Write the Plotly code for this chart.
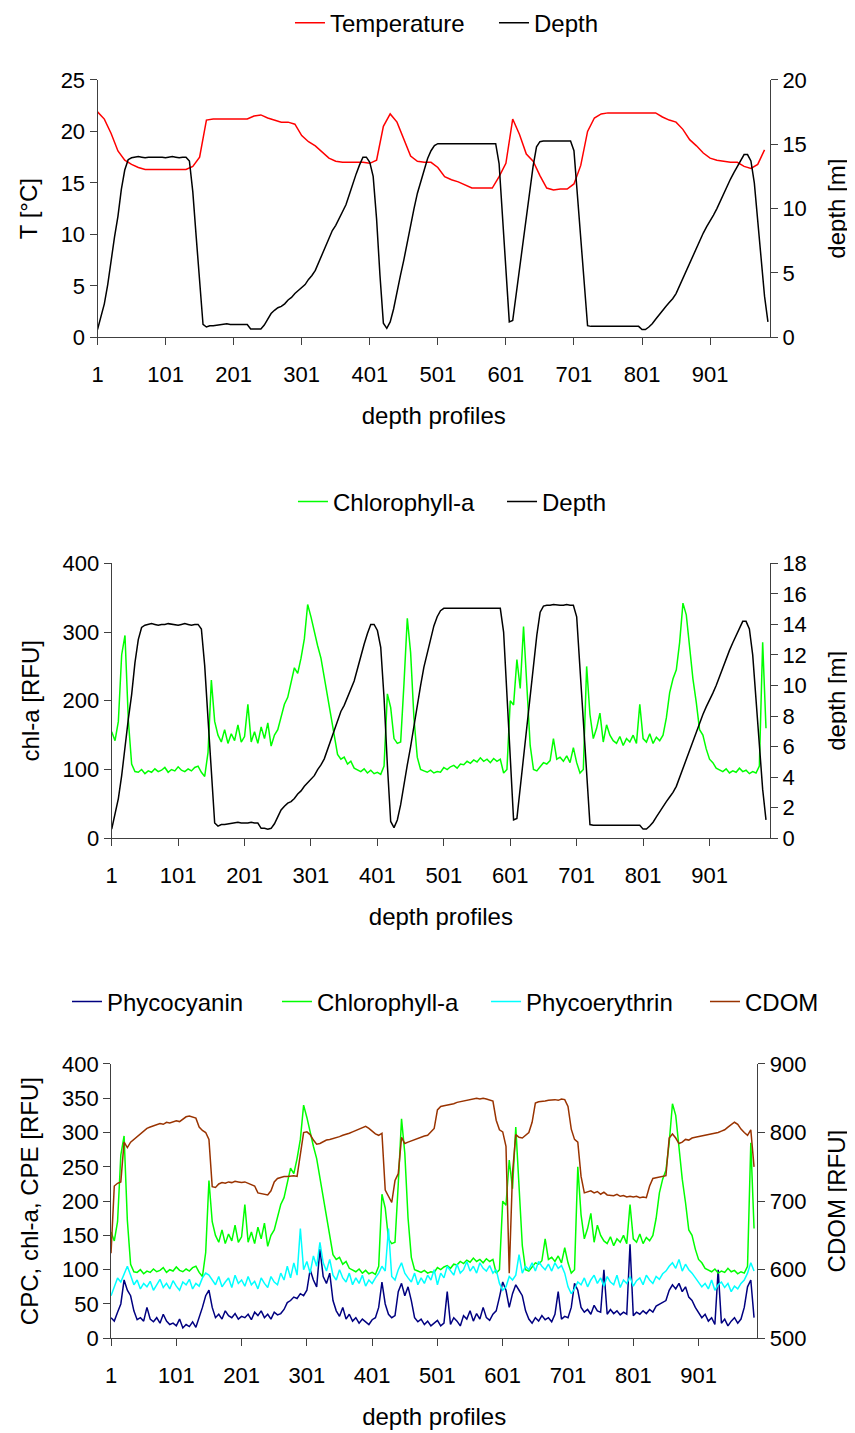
import plotly.graph_objects as go

# ---------------- data ----------------
profile_ticks = [1, 101, 201, 301, 401, 501, 601, 701, 801, 901]

# temperature [°C], every 10th depth profile (1, 11, 21, ...)
temperature = [
    21.9, 21.2, 19.8, 18.1, 17.2, 16.8, 16.5, 16.3, 16.3, 16.3,
    16.3, 16.3, 16.3, 16.3, 16.6, 17.5, 21.1, 21.2, 21.2, 21.2,
    21.2, 21.2, 21.2, 21.5, 21.6, 21.3, 21.1, 20.9, 20.9, 20.7,
    19.6, 19.0, 18.6, 18.0, 17.4, 17.1, 17.0, 17.0, 17.0, 17.0,
    16.9, 17.2, 20.5, 21.7, 20.9, 19.2, 17.6, 17.1, 17.0, 17.0,
    16.5, 15.6, 15.3, 15.1, 14.8, 14.5, 14.5, 14.5, 14.5, 15.6,
    16.9, 21.2, 19.7, 17.8, 17.1, 15.7, 14.5, 14.3, 14.4, 14.4,
    14.9, 16.7, 20.0, 21.3, 21.7, 21.8, 21.8, 21.8, 21.8, 21.8,
    21.8, 21.8, 21.8, 21.4, 21.1, 20.9, 20.2, 19.2, 18.6, 17.9,
    17.4, 17.2, 17.1, 17.0, 17.0, 16.6, 16.4, 16.8, 18.2,
]

# depth [m], every 5th depth profile (1, 6, 11, ...)
depth = [
    0.6, 1.6, 2.6, 4.1, 6.1, 7.8, 9.4, 11.5, 13.0, 13.8,
    13.95, 14.0, 14.05, 14.0, 13.95, 14.0, 14.0, 14.05, 14.0, 14.0,
    13.95, 14.0, 14.05, 14.0, 13.95, 14.0, 14.0, 13.7, 11.3, 7.8,
    4.2, 1.0, 0.8, 0.9, 0.9, 0.95, 1.0, 1.0, 1.05, 1.0,
    1.0, 1.0, 1.05, 1.0, 1.0, 0.65, 0.65, 0.6, 0.65, 0.95,
    1.4, 1.85, 2.1, 2.3, 2.4, 2.6, 2.9, 3.1, 3.4, 3.65,
    3.85, 4.1, 4.5, 4.8, 5.2, 5.8, 6.5, 7.1, 7.7, 8.3,
    8.7, 9.2, 9.7, 10.3, 11.1, 12.0, 12.7, 13.4, 14.0, 14.0,
    13.6, 12.5, 9.2, 4.8, 1.1, 0.7, 1.2, 2.2, 3.6, 4.8,
    6.0, 7.4, 8.8, 10.0, 11.2, 12.2, 13.0, 13.9, 14.5, 14.9,
    15.05, 15.05, 15.05, 15.05, 15.05, 15.05, 15.05, 15.05, 15.05, 15.05,
    15.05, 15.05, 15.05, 15.05, 15.05, 15.05, 15.05, 15.05, 13.5, 9.2,
    5.3, 1.2, 1.3, 3.3, 5.2, 7.0, 9.2, 11.2, 13.3, 14.8,
    15.2, 15.25, 15.25, 15.3, 15.25, 15.25, 15.25, 15.3, 15.25, 15.25,
    14.5, 11.2, 7.5, 4.0, 0.9, 0.85, 0.85, 0.85, 0.85, 0.85,
    0.85, 0.85, 0.85, 0.85, 0.85, 0.85, 0.85, 0.85, 0.85, 0.85,
    0.6, 0.6, 0.8, 1.05, 1.4, 1.75, 2.1, 2.4, 2.7, 3.0,
    3.4, 4.0, 4.5, 5.1, 5.75, 6.3, 6.9, 7.5, 8.1, 8.6,
    9.0, 9.5, 10.0, 10.6, 11.2, 11.8, 12.3, 12.8, 13.3, 13.8,
    14.2, 14.2, 13.7, 12.0, 9.2, 6.0, 3.2, 1.2,
]

# chlorophyll-a [RFU], every 5th depth profile
chl_a = [
    155, 142, 170, 267, 295, 172, 108, 97, 96, 100,
    94, 98, 96, 101, 97, 99, 103, 96, 100, 98,
    104, 99, 97, 101, 98, 103, 105, 96, 90, 125,
    230, 170, 150, 140, 158, 138, 152, 142, 165, 140,
    148, 195, 140, 155, 138, 162, 145, 168, 134, 150,
    158, 178, 195, 205, 225, 248, 240, 262, 290, 340,
    322, 300, 280, 262, 235, 205, 178, 148, 122, 115,
    118, 108, 112, 102, 100, 97, 101, 95, 99, 94,
    96, 93, 105, 210, 190, 145, 138, 140, 225, 320,
    270, 175, 118, 100, 98, 96, 99, 95, 97, 96,
    103, 100, 104, 106, 102, 108, 107, 112, 109, 114,
    111, 117, 112, 115, 110, 116, 112, 115, 95, 100,
    200, 194, 260, 218, 308, 218, 135, 100, 98, 104,
    110, 108, 113, 145, 115, 118, 112, 120, 110, 132,
    110, 95, 100, 250, 180, 145, 160, 182, 140, 165,
    150, 142, 138, 148, 135, 145, 140, 150, 138, 195,
    145, 140, 152, 138, 147, 142, 150, 175, 212, 232,
    245, 285, 342, 325, 275, 232, 198, 158, 150, 130,
    115, 110, 102, 100, 97, 101, 95, 98, 96, 102,
    97, 99, 94, 97, 95, 105, 285, 160,
]

# phycocyanin [RFU], every 5th depth profile
phycocyanin = [
    30, 25, 38, 50, 85, 70, 62, 40, 27, 30,
    25, 45, 28, 24, 30, 22, 35, 25, 20, 22,
    18, 28, 15, 20, 17, 24, 16, 30, 45, 62,
    70, 45, 30, 35, 28, 40, 33, 30, 36, 28,
    32, 30, 35, 27, 38, 33, 40, 30, 35, 28,
    38, 34, 36, 42, 52, 55, 60, 58, 65, 62,
    70, 100, 85, 75, 130, 90, 80, 95, 55, 40,
    32, 45, 28, 35, 25, 30, 22, 28, 24, 20,
    27, 30, 45, 82, 50, 35, 30, 33, 68, 80,
    62, 75, 55, 30, 24, 28, 20, 25, 18, 22,
    26, 18, 22, 68, 20, 30, 25, 18, 33, 28,
    40, 25, 36, 28, 45, 30, 26, 35, 40, 60,
    82, 70, 45, 65, 78, 70, 62, 40, 28, 22,
    30, 25, 33, 27, 30, 24, 35, 68, 28, 32,
    30, 45, 80, 70, 45, 38, 42, 35, 48, 40,
    38, 100, 35, 42, 36, 40, 34, 38, 35, 137,
    33, 38, 35, 40, 36, 42, 38, 47, 50, 52,
    55, 70, 78, 72, 80, 68, 75, 60, 55, 45,
    38, 30, 35, 25, 30, 20, 100, 22, 28, 18,
    25, 30, 22, 28, 45, 75, 85, 30,
]

# phycoerythrin [RFU], every 5th depth profile
phycoerythrin = [
    62, 75, 88, 82, 95, 105, 92, 78, 85, 72,
    80, 75, 83, 70, 78, 86, 74, 80, 72, 84,
    76, 70, 82, 78, 86, 72, 80, 76, 88, 95,
    92, 85, 78, 90, 75, 82, 88, 74, 92, 80,
    85, 76, 90, 78, 83, 72, 88, 80, 74, 90,
    82, 78, 95, 85, 105, 88, 110, 92, 160, 100,
    112, 95, 120, 105, 140, 110, 98, 115, 92, 85,
    100, 88, 82, 95, 78, 88, 80, 92, 76, 85,
    80, 88, 95, 105, 98, 160, 90, 85, 100, 110,
    95, 88, 82, 95, 78, 88, 80, 92, 85, 100,
    78, 95, 88, 105, 98, 92, 108, 95, 100, 112,
    98, 105, 95, 110, 102, 98, 106, 95, 100, 80,
    70, 75, 90, 85, 92, 122, 95, 105, 100, 110,
    98, 112, 105, 100, 108, 98, 110, 102, 106, 95,
    75, 65, 72, 82, 78, 88, 75, 85, 92, 80,
    88, 76, 90, 82, 78, 92, 74, 85, 80, 90,
    76, 84, 88, 78, 92, 85, 80, 90, 86, 94,
    98, 105, 110, 102, 115, 98, 108, 100, 95, 88,
    82, 75, 80, 72, 85, 70, 78, 82, 74, 80,
    68, 76, 72, 80, 85, 95, 110, 98,
]

# CDOM [RFU], every 5th depth profile
cdom = [
    624, 722, 726, 728, 786, 778, 786, 790, 795, 799,
    802, 806, 808, 810, 811, 813, 812, 815, 814, 816,
    817, 816, 820, 823, 824, 822, 821, 808, 803, 800,
    790, 721, 720, 725, 727, 726, 728, 727, 729, 728,
    727, 728, 726, 724, 722, 712, 711, 710, 709, 715,
    728, 733, 735, 736, 736, 737, 737, 736, 770, 800,
    801, 797, 789, 783, 784, 787, 789, 790, 791, 793,
    794, 796, 797, 799, 801, 803, 806, 808, 809, 806,
    802, 798, 796, 799, 716, 706, 698, 730, 740, 793,
    784, 786, 788, 790, 792, 793, 795, 796, 801, 806,
    833, 838, 839, 840, 840, 842, 844, 845, 846, 847,
    848, 849, 850, 849, 850, 849, 848, 846, 818, 804,
    801, 780, 595, 741, 797, 793, 792, 796, 800, 815,
    843, 845, 845, 846, 847, 848, 848, 847, 849, 848,
    838, 805, 790, 786, 736, 712, 714, 715, 712, 714,
    710, 713, 709, 709, 708, 710, 707, 708, 706, 707,
    706, 707, 705, 706, 705, 722, 733, 734, 735, 735,
    737, 792, 798, 792, 784, 786, 790, 789, 792, 793,
    794, 795, 796, 797, 798, 798, 800, 802, 804, 808,
    812, 815, 812, 805, 800, 796, 804, 750,
]


def profiles(values, step):
    return [1 + step * i for i in range(len(values))]


FONT = "Liberation Sans, Arial, sans-serif"
TICK_SIZE = 22
TITLE_SIZE = 24
AXCOL = "#404040"

fig = go.Figure()


def add_line(x, y, name, color, xa, ya, leg):
    fig.add_trace(go.Scatter(x=x, y=y, name=name, mode="lines",
                             line=dict(color=color, width=1.5),
                             xaxis=xa, yaxis=ya, legend=leg))


# ---- chart 1 ----
add_line(profiles(temperature, 10), temperature, "Temperature", "#FF0000", "x", "y", "legend")
add_line(profiles(depth, 5), depth, "Depth", "#000000", "x", "y2", "legend2")
# ---- chart 2 ----
add_line(profiles(chl_a, 5), chl_a, "Chlorophyll-a", "#00FF00", "x2", "y3", "legend3")
add_line(profiles(depth, 5), depth, "Depth", "#000000", "x2", "y4", "legend4")
# ---- chart 3 ----
add_line(profiles(phycocyanin, 5), phycocyanin, "Phycocyanin", "#000080", "x3", "y5", "legend5")
add_line(profiles(chl_a, 5), chl_a, "Chlorophyll-a", "#00FF00", "x3", "y5", "legend6")
add_line(profiles(phycoerythrin, 5), phycoerythrin, "Phycoerythrin", "#00FFFF", "x3", "y5", "legend7")
add_line(profiles(cdom, 5), cdom, "CDOM", "#993300", "x3", "y6", "legend8")


def xax(domain, anchor, rng):
    return dict(domain=domain, anchor=anchor, range=rng, tickmode="array",
                tickvals=profile_ticks, ticktext=[str(t) for t in profile_ticks],
                ticks="outside", ticklen=7, tickcolor=AXCOL, showline=True,
                linecolor=AXCOL, linewidth=1, showgrid=False, zeroline=False,
                automargin=False, ticklabelstandoff=10,
                tickfont=dict(family=FONT, size=TICK_SIZE, color="black"),
                title=dict(text="depth profiles", standoff=21,
                           font=dict(family=FONT, size=TITLE_SIZE, color="black")))


def yax(domain, anchor, rng, dtick, title, side="left", overlaying=None,
        ticks="outside", labels=True):
    d = dict(anchor=anchor, range=rng, dtick=dtick, tick0=rng[0], side=side,
             ticks=ticks, ticklen=7, tickcolor=AXCOL, showline=labels,
             linecolor=AXCOL, linewidth=1, showgrid=False, zeroline=False,
             automargin=False, showticklabels=labels,
             tickfont=dict(family=FONT, size=TICK_SIZE, color="black"))
    if title:
        d["title"] = dict(text=title, standoff=22 if side == "right" else 16,
                          font=dict(family=FONT, size=TITLE_SIZE, color="black"))
    if overlaying:
        d["overlaying"] = overlaying
    else:
        d["domain"] = domain
    return d


def legend(x, y):
    return dict(orientation="h", x=x, y=y, xanchor="left", yanchor="middle",
                font=dict(family=FONT, size=TITLE_SIZE, color="black"),
                bgcolor="rgba(0,0,0,0)", itemwidth=30, tracegroupgap=0)


L1_Y, L2_Y, L3_Y = 0.9895, 0.6553, 0.3064

fig.update_layout(
    width=855, height=1433,
    margin=dict(l=0, r=0, t=0, b=0, autoexpand=False),
    paper_bgcolor="white", plot_bgcolor="white",
    font=dict(family=FONT, color="black"),
    xaxis=xax([0.1047, 0.8912], "y", [1, 989]),
    yaxis=yax([0.7702, 0.9498], "x", [0, 25], 5, "T [°C]"),
    yaxis2=yax(None, "x", [0, 20], 5, "depth [m]", side="right", overlaying="y"),
    yaxis7=yax(None, "x", [0, 20], 5, None, side="right", overlaying="y",
               ticks="inside", labels=False),
    xaxis2=xax([0.1213, 0.8912], "y3", [1, 992]),
    yaxis3=yax([0.4206, 0.6125], "x2", [0, 400], 100, "chl-a [RFU]"),
    yaxis4=yax(None, "x2", [0, 18], 2, "depth [m]", side="right", overlaying="y3"),
    yaxis8=yax(None, "x2", [0, 18], 2, None, side="right", overlaying="y3",
               ticks="inside", labels=False),
    xaxis3=xax([0.1205, 0.8764], "y5", [1, 991]),
    yaxis5=yax([0.0717, 0.2631], "x3", [0, 400], 50, "CPC, chl-a, CPE [RFU]"),
    yaxis6=yax(None, "x3", [500, 900], 100, "CDOM [RFU]", side="right", overlaying="y5"),
    yaxis9=yax(None, "x3", [500, 900], 100, None, side="right", overlaying="y5",
               ticks="inside", labels=False),
    legend=legend(0.3298, L1_Y),
    legend2=legend(0.5684, L1_Y),
    legend3=legend(0.3333, L2_Y),
    legend4=legend(0.5778, L2_Y),
    legend5=legend(0.0690, L3_Y),
    legend6=legend(0.3146, L3_Y),
    legend7=legend(0.5591, L3_Y),
    legend8=legend(0.8152, L3_Y),
    showlegend=True,
)

fig.write_html("out.html")
